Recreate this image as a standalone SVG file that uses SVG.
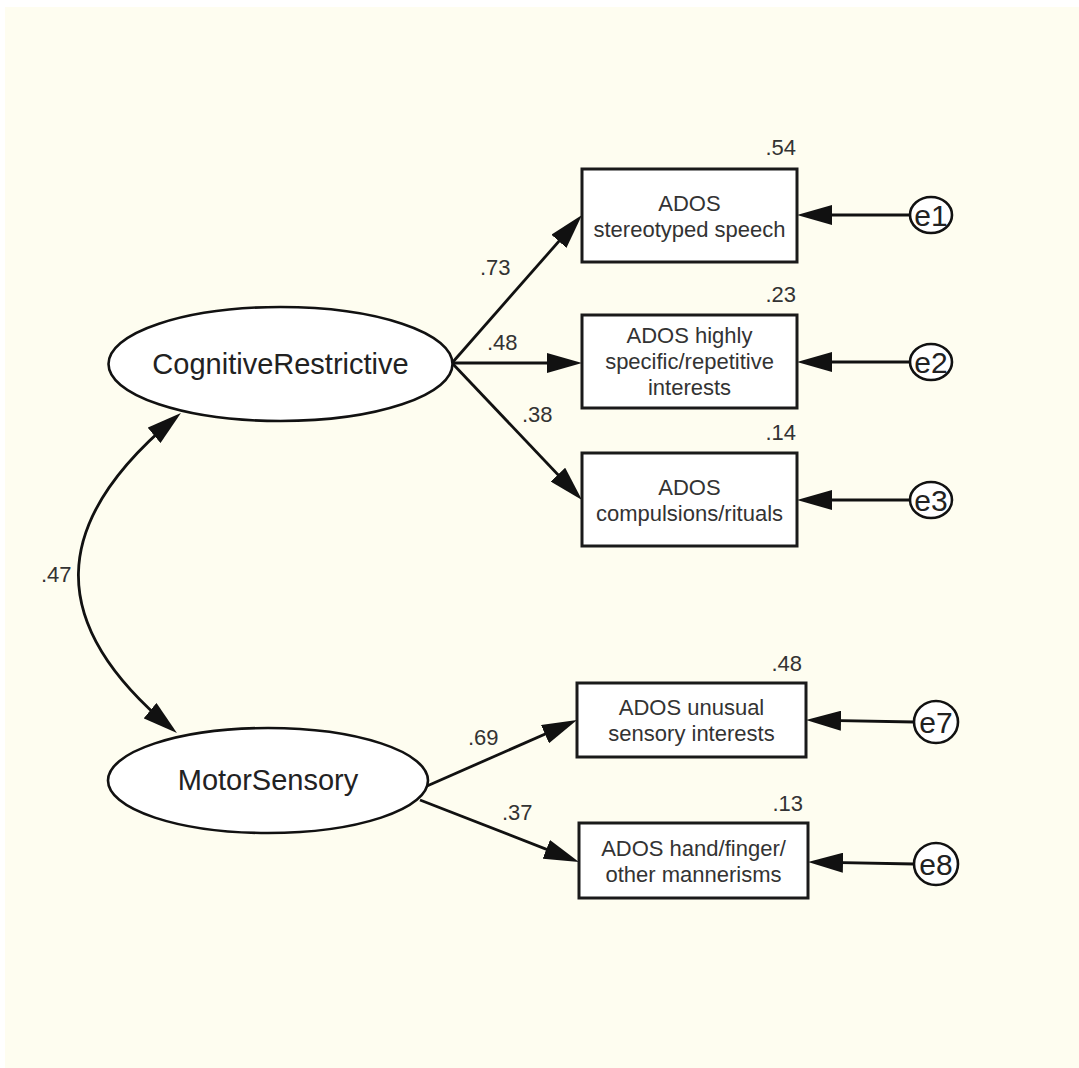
<svg xmlns="http://www.w3.org/2000/svg" width="1079" height="1068" viewBox="0 0 1079 1068">
<style>
.lat{fill:#ffffff;stroke:#111;stroke-width:2.6}
.box{fill:#ffffff;stroke:#1a1a1a;stroke-width:3}
.err{fill:#ffffff;stroke:#111;stroke-width:2.6}
.con{fill:none;stroke:#111;stroke-width:2.8}
.t{font-family:"Liberation Sans",Arial,sans-serif;fill:#333;text-anchor:middle}
.lt{font-size:29px;fill:#222}
.bt{font-size:22px}
.et{font-size:30px;fill:#222}
.num{font-family:"Liberation Sans",Arial,sans-serif;font-size:22px;fill:#333}
</style>
<defs>
<marker id="ah" markerUnits="userSpaceOnUse" viewBox="0 0 35 20" refX="27" refY="10" markerWidth="35" markerHeight="20" orient="auto-start-reverse">
<path d="M0,0 L35,10 L0,20 z" fill="#111"/>
</marker>
</defs>
<rect x="0" y="0" width="1079" height="1068" fill="#ffffff"/>
<rect x="5" y="7" width="1074" height="1061" fill="#fefdf0"/>

<g id="connectors">
<path class="con" d="M452,363 L576.7,221" marker-end="url(#ah)"/>
<path class="con" d="M452,363 L574,363" marker-end="url(#ah)"/>
<path class="con" d="M452,363 L576.5,494.2" marker-end="url(#ah)"/>
<path class="con" d="M427,786 L569.7,723.2" marker-end="url(#ah)"/>
<path class="con" d="M420,800 L571.5,859.1" marker-end="url(#ah)"/>
<path class="con" d="M910,215 L805,215" marker-end="url(#ah)"/>
<path class="con" d="M910,362 L805,362" marker-end="url(#ah)"/>
<path class="con" d="M910,500 L805,500" marker-end="url(#ah)"/>
<path class="con" d="M914,722 L814,720.2" marker-end="url(#ah)"/>
<path class="con" d="M914,864 L816,862.2" marker-end="url(#ah)"/>
<path class="con" d="M174.8,418.1 C49,523 45,623 170.8,727.9" marker-start="url(#ah)" marker-end="url(#ah)"/>
<text class="num" x="480" y="275">.73</text>
<text class="num" x="487" y="350">.48</text>
<text class="num" x="522" y="422">.38</text>
<text class="num" x="468" y="745">.69</text>
<text class="num" x="502" y="820">.37</text>
<text class="num" x="41" y="582">.47</text>
</g>

<g id="CognitiveRestrictive">
<ellipse class="lat" cx="280.5" cy="364" rx="172" ry="57"/>
<text class="t lt" x="280.5" y="374">CognitiveRestrictive</text>
</g>

<g id="MotorSensory">
<ellipse class="lat" cx="268" cy="780.5" rx="160" ry="52.5"/>
<text class="t lt" x="268" y="790">MotorSensory</text>
</g>

<g id="box1">
<rect class="box" x="582" y="169" width="215" height="93"/>
<text class="t bt" x="689.5" y="210.5">ADOS</text>
<text class="t bt" x="689.5" y="236.5">stereotyped speech</text>
<text class="num" x="796" y="155" text-anchor="end">.54</text>
</g>

<g id="box2">
<rect class="box" x="582" y="315" width="215" height="93"/>
<text class="t bt" x="689.5" y="343">ADOS highly</text>
<text class="t bt" x="689.5" y="369">specific/repetitive</text>
<text class="t bt" x="689.5" y="395">interests</text>
<text class="num" x="796" y="302" text-anchor="end">.23</text>
</g>

<g id="box3">
<rect class="box" x="582" y="453" width="215" height="93"/>
<text class="t bt" x="689.5" y="494.5">ADOS</text>
<text class="t bt" x="689.5" y="520.5">compulsions/rituals</text>
<text class="num" x="796" y="440" text-anchor="end">.14</text>
</g>

<g id="box7">
<rect class="box" x="577" y="683" width="229" height="74"/>
<text class="t bt" x="691.5" y="715">ADOS unusual</text>
<text class="t bt" x="691.5" y="741">sensory interests</text>
<text class="num" x="802" y="671" text-anchor="end">.48</text>
</g>

<g id="box8">
<rect class="box" x="579" y="823" width="229" height="75"/>
<text class="t bt" x="693.5" y="855.5">ADOS hand/finger/</text>
<text class="t bt" x="693.5" y="881.5">other mannerisms</text>
<text class="num" x="803" y="811" text-anchor="end">.13</text>
</g>

<g id="e1">
<ellipse class="err" cx="931" cy="215" rx="21" ry="18"/>
<text class="t et" x="931" y="226">e1</text>
</g>
<g id="e2">
<ellipse class="err" cx="931" cy="362" rx="21" ry="18"/>
<text class="t et" x="931" y="373">e2</text>
</g>
<g id="e3">
<ellipse class="err" cx="931" cy="500" rx="21" ry="18"/>
<text class="t et" x="931" y="511">e3</text>
</g>
<g id="e7">
<ellipse class="err" cx="936" cy="722" rx="22" ry="21"/>
<text class="t et" x="936" y="733">e7</text>
</g>
<g id="e8">
<ellipse class="err" cx="936" cy="864" rx="22" ry="21"/>
<text class="t et" x="936" y="875">e8</text>
</g>
</svg>
